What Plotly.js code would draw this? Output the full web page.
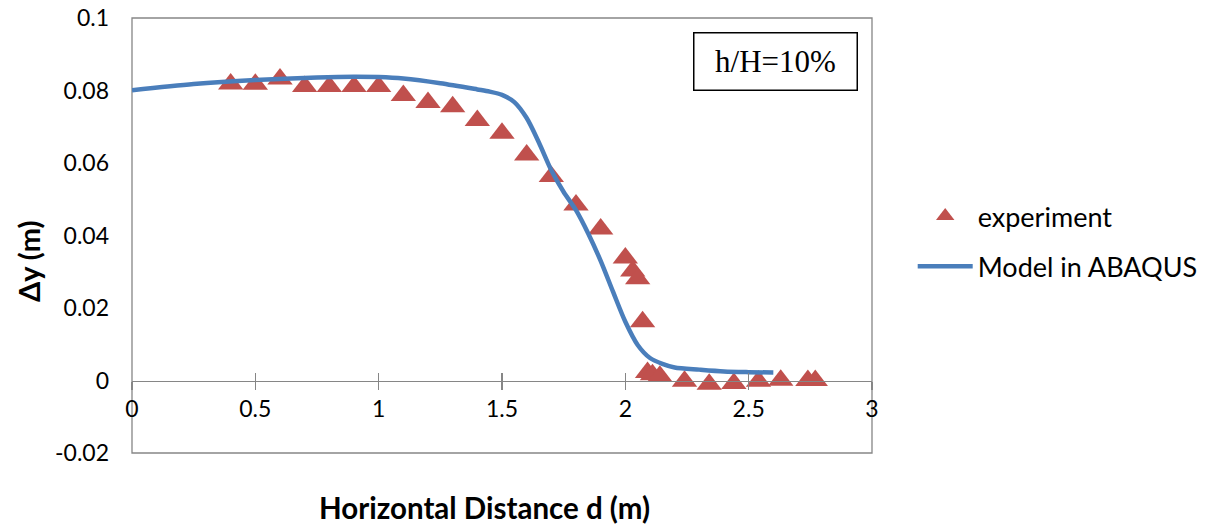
<!DOCTYPE html>
<html>
<head>
<meta charset="utf-8">
<script src="https://cdn.plot.ly/plotly-3.0.1.min.js"></script>
<style>html,body{margin:0;padding:0;background:#fff;}#chart{width:1207px;height:529px;}</style>
</head>
<body>
<div id="chart"></div>
<script>
// Experiment (triangles)
const expX = [0.4, 0.5, 0.6, 0.7, 0.8, 0.9, 1.0, 1.1, 1.2, 1.3, 1.4, 1.5, 1.6, 1.7, 1.8, 1.9, 2.0, 2.03, 2.05, 2.07, 2.09, 2.11, 2.14, 2.24, 2.34, 2.44, 2.54, 2.63, 2.74, 2.77];
const expY = [0.0818, 0.0817, 0.0832, 0.0811, 0.0811, 0.0811, 0.0811, 0.0786, 0.0767, 0.0755, 0.0717, 0.0682, 0.0622, 0.0563, 0.0484, 0.0418, 0.0338, 0.0302, 0.0281, 0.0162, 0.0022, 0.0016, 0.0012, -0.0002, -0.0010, -0.0008, -0.0002, 0.0001, 0.0000, 0.0000];
// Model in ABAQUS (line)
const modX = [0, 0.25, 0.5, 0.75, 0.9, 1.0, 1.1, 1.25, 1.4, 1.45, 1.5, 1.55, 1.6, 1.65, 1.7, 1.75, 1.8, 1.85, 1.9, 1.95, 2.0, 2.05, 2.1, 2.15, 2.2, 2.3, 2.4, 2.5, 2.6];
const modY = [0.0801, 0.0818, 0.0829, 0.0836, 0.0838, 0.0837, 0.0833, 0.0820, 0.0803, 0.0797, 0.0788, 0.0768, 0.0724, 0.0656, 0.0580, 0.0520, 0.0470, 0.0405, 0.0330, 0.0245, 0.0162, 0.0098, 0.0062, 0.0046, 0.0036, 0.0030, 0.0025, 0.0023, 0.0022];
const xTicks = [0, 0.5, 1, 1.5, 2, 2.5, 3];
const xTickText = ["0", "0.5", "1", "1.5", "2", "2.5", "3"];
const yTicks = [-0.02, 0, 0.02, 0.04, 0.06, 0.08, 0.1];
const yTickText = ["-0.02", "0", "0.02", "0.04", "0.06", "0.08", "0.1"];

const FONT = "Lato, 'Open Sans', sans-serif";
const GREY = "#868686";
const zeroPos = (0 - (-0.02)) / 0.12;

const traces = [
  {x: expX, y: expY, type: 'scatter', mode: 'markers', name: 'experiment',
   marker: {symbol: 'triangle-up', size: 22, color: '#C0504D'}, legendgroup: 'a'},
  {x: modX, y: modY, type: 'scatter', mode: 'lines', name: 'Model in ABAQUS',
   line: {color: '#4A7EBB', width: 4.5, shape: 'spline', smoothing: 0.8}, legendgroup: 'b'},
  {x: [0], y: [0], xaxis: 'x2', type: 'scatter', mode: 'markers', marker: {opacity: 0}, showlegend: false, hoverinfo: 'skip'}
];

const layout = {
  width: 1207, height: 529,
  margin: {l: 132, r: 335, t: 18, b: 76, autoexpand: false},
  paper_bgcolor: '#fff', plot_bgcolor: '#fff',
  font: {family: FONT, size: 23, color: '#000'},
  showlegend: true,
  xaxis: {range: [0, 3], tickvals: xTicks, ticktext: xTickText, showgrid: false, zeroline: false,
          anchor: 'free', position: zeroPos, showline: true, linecolor: GREY, linewidth: 1.3,
          ticks: 'outside', ticklen: 8, tickwidth: 1.3, tickcolor: GREY, automargin: false,
          tickfont: {family: FONT, size: 23, color: '#000'}},
  xaxis2: {range: [0, 3], overlaying: 'x', anchor: 'free', position: zeroPos, tickvals: xTicks,
           showticklabels: false, showgrid: false, zeroline: false, showline: false,
           ticks: 'inside', ticklen: 8, tickwidth: 1.3, tickcolor: GREY},
  yaxis: {range: [-0.02, 0.1], tickvals: yTicks, ticktext: yTickText, showgrid: false, zeroline: false,
          showline: false, ticks: '', ticklabelstandoff: 22, automargin: false,
          tickfont: {family: FONT, size: 23, color: '#000'}},
  legend: {x: 1.055, y: 0.6, xanchor: 'left', yanchor: 'top', itemwidth: 55,
           font: {family: FONT, size: 27, color: '#000'}, traceorder: 'grouped', tracegroupgap: 12,
           bgcolor: 'rgba(0,0,0,0)'},
  shapes: [
    {type: 'rect', xref: 'paper', yref: 'paper', x0: 0, x1: 1, y0: 0, y1: 1,
     line: {color: GREY, width: 1.3}, layer: 'below'}
  ],
  annotations: [
    {text: 'h/H=10%', xref: 'paper', yref: 'paper', x: 0.869, y: 0.899, xanchor: 'center', yanchor: 'middle',
     showarrow: false, font: {family: "'Liberation Serif', 'Times New Roman', serif", size: 31, color: '#000'},
     bordercolor: '#000', borderwidth: 1.5, borderpad: 1, width: 160, height: 54, bgcolor: '#fff'},
    {text: '<b>Δy (m)</b>', xref: 'paper', yref: 'paper', x: -0.1405, y: 0.439, xanchor: 'center', yanchor: 'middle',
     textangle: -90, showarrow: false, font: {family: FONT, size: 29, color: '#000'}},
    {text: '<b>Horizontal Distance d (m)</b>', xref: 'paper', yref: 'paper', x: 0.477, y: -0.1264,
     xanchor: 'center', yanchor: 'middle', showarrow: false, font: {family: FONT, size: 29.5, color: '#000'}}
  ]
};

Plotly.newPlot('chart', traces, layout, {displayModeBar: false, staticPlot: true});
</script>
</body>
</html>
